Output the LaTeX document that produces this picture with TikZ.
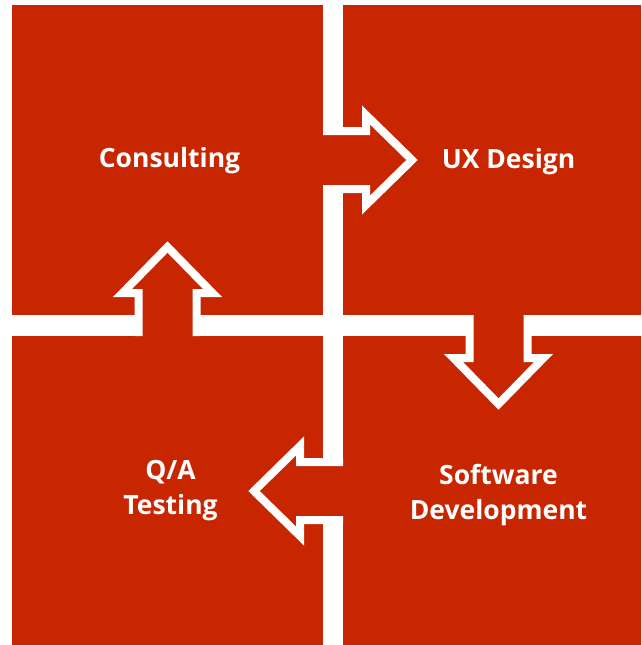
\documentclass[tikz,border=0pt]{standalone}
\usepackage{fontspec}
\setmainfont{Open Sans}
\definecolor{tilered}{HTML}{C82600}

\begin{document}
\begin{tikzpicture}
    [x=1pt, y=1pt,
    tile/.style={fill=tilered, minimum width=311, minimum height=310, inner sep=0pt, outer sep=0pt},
    label/.style={text=white, align=center, font=\fontsize{26.5}{35}\selectfont\bfseries},
    blockarrow/.style={fill=tilered, draw=white, line width=8pt, line join=miter}]
    % \draw[help lines] (0,0) grid (641,-645);
    \useasboundingbox (0,0) rectangle (641,-645);
    \clip (0,0) rectangle (641,-645);
    \node[tile] (tl) at (167.5, -160) {};
    \node[tile] (tr) at (498.5, -160) {};
    \node[tile] (bl) at (167.5, -491) {};
    \node[tile] (br) at (498.5, -491) {};
    %
    \node[label] (consult) at (169.5, -161) {Consulting};
    \node[label] (ux) at (508.5, -162) {UX Design};
    \node[label] (qa) at (170.5, -491) {Q/A \\ Testing};
    \node[label] (dev) at (498.5, -495) {Software \\ Development};
    %
    \filldraw[blockarrow, shift={(tl.east)}] (0,29) -- (43,29) -- (43,45) -- (89,0) -- (43,-45) -- (43,-29) -- (0,-29);
    \filldraw[blockarrow, shift={(tr.south)}, rotate=-90] (0,29) -- (43,29) -- (43,45) -- (89,0) -- (43,-45) -- (43,-29) -- (0,-29);
    \filldraw[blockarrow, shift={(br.west)}, rotate=180] (0,29) -- (43,29) -- (43,45) -- (89,0) -- (43,-45) -- (43,-29) -- (0,-29);
    \filldraw[blockarrow, shift={(bl.north)}, rotate=90] (0,29) -- (43,29) -- (43,45) -- (89,0) -- (43,-45) -- (43,-29) -- (0,-29);
\end{tikzpicture}
\end{document}
